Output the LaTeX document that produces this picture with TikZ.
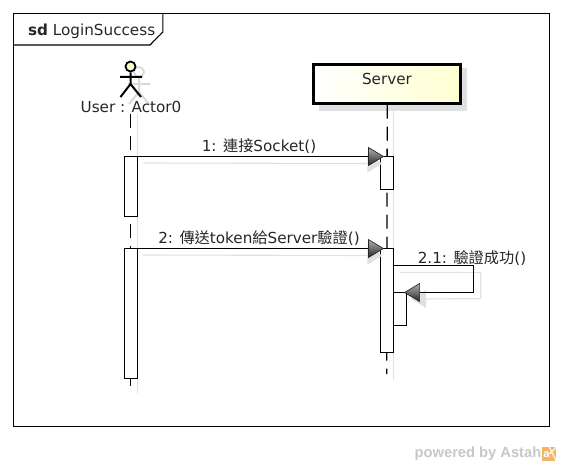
\documentclass[tikz,border=0pt]{standalone}
\usepackage{fontspec}
\setmainfont{DejaVu Sans}
\newfontfamily\cjkfont{Noto Sans CJK TC}
\newfontfamily\footfont{Liberation Sans}
\usetikzlibrary{shapes.geometric}
\definecolor{shadowgray}{HTML}{E0E0E0}
\definecolor{paleyellow}{HTML}{FFFFD2}
\definecolor{astahorange}{HTML}{F2B566}
\newcommand{\zh}[1]{{\cjkfont #1}}
\tikzset{
	lbl/.style={inner sep=0pt, font=\fontsize{15.2}{17}\selectfont, text=black!85, anchor=base},
	act/.style={draw, fill=white, line width=1.1pt, minimum width=13pt, inner sep=0pt, outer sep=0pt, anchor=north},
	msg/.style={line width=1.1pt},
	msgshadow/.style={line width=1.1pt, draw=shadowgray},
	life/.style={line width=1.3pt, dash pattern=on 14pt off 8pt},
	tiptri/.style={isosceles triangle, isosceles triangle stretches, inner sep=0pt, minimum width=18pt, minimum height=15pt},
	tipdark/.style={tiptri, draw=black!85, line width=.7pt, top color=black!30, bottom color=black!85},
	tiplight/.style={tiptri, fill=shadowgray},
}
\begin{document}
\begin{tikzpicture}[x=1pt, y=-1pt]
	\useasboundingbox (0,0) rectangle (562,466);

	% frame
	\node (frame) [draw, line width=1.1pt, outer sep=0pt, minimum width=536pt, minimum height=413pt, inner sep=0pt, anchor=north west] at (13.5,13.5) {};
	\draw [line width=1.1pt] (162.8,13.5) -- (162.8,32) -- (150,45) -- (13.5,45);
	\node (title) [lbl, anchor=base west] at (28,35) {\textbf{sd} LoginSuccess};

	% shadows
	\draw [draw=shadowgray, line width=1.2pt] (137.5,114) -- (137.5,393);
	\draw [draw=shadowgray, line width=1.2pt] (393.5,110) -- (393.5,380);
	\fill [shadowgray] (319,68) rectangle (467,110.5);
	\draw [draw=black!15, line width=1.8pt] (139,72) circle (5);
	\draw [draw=black!15, line width=2pt] (128,84) -- (150,84) (139,77) -- (139,92) -- (129,104) (139,92) -- (149,104);

	% actor
	\coordinate (hip) at (130.5,84);
	\node (head) [circle, draw, line width=1.8pt, fill=paleyellow, minimum size=10pt, inner sep=0pt] at (130.5,66.5) {};
	\draw [line width=2pt] (head) -- (hip) -- (120.5,97) (hip) -- (141,97) (120,76.8) -- (142,76.8);
	\node (user) [lbl] at (131,112) {User : Actor0};

	% server
	\node (server) [draw, line width=3pt, left color=white, right color=paleyellow, minimum width=147.5pt, minimum height=39pt, inner sep=0pt] at (387.2,83.5) {};
	\node (servername) [lbl] at (387,84) {Server};

	% lifelines
	\coordinate (userstart) at (130.5,113.5);
	\coordinate (userend) at (130.5,386);
	\coordinate (serverend) at (386.8,374);
	\draw [life] (userstart) -- (userend);
	\draw [life] (server.south) -- (serverend);

	% activations
	\node (ua1) [act, minimum height=60pt] at (131,156.5) {};
	\node (ua2) [act, minimum height=130pt] at (131,248.5) {};
	\node (sa1) [act, minimum height=33pt] at (387,156.5) {};
	\node (sa2) [act, minimum height=104pt] at (387,248.5) {};
	\node (sa3) [act, minimum height=33pt, anchor=north west] at (393.5,292.5) {};

	% messages
	\foreach \y/\to in {156.5/t1, 248.5/t2} {
		\node (\to s) [tiplight] at (372.5,\y+7) {};
		\draw [msgshadow] (143,\y+6.5) -- (\to s.west);
		\node (\to) [tipdark] at (373.5,\y) {};
	}
	\draw [msg] (ua1.north east) -- (t1.west);
	\draw [msg] (ua2.north east) -- (t2.west);
	\node (m1) [lbl] at (259,151.5) {1: \zh{連接}Socket()};
	\node (m2) [lbl] at (259,243.5) {2: \zh{傳送}token\zh{給}Server\zh{驗證}()};

	% self message
	\coordinate (selfa) at (473.5,265.5);
	\coordinate (selfb) at (473.5,292.5);
	\node (t3s) [tiplight, shape border rotate=180] at (421,299) {};
	\draw [msgshadow] (400,272.3) -- (480.7,272.3) -- (480.7,298.5) -- (t3s.east);
	\node (t3) [tipdark, shape border rotate=180] at (414.5,292.5) {};
	\draw [msg] (sa2.east |- selfa) -- (selfa) -- (selfb) -- (t3.east);
	\node (m3) [lbl] at (472,263) {2.1: \zh{驗證成功}()};

	% footer
	\node (powered) [inner sep=0pt, anchor=base east, text=black!22, font=\footfont\bfseries\fontsize{14.7}{16}\selectfont] at (541.5,457.7) {powered by Astah};
	\node (logo) [fill=astahorange, minimum size=14pt, inner sep=0pt, anchor=north west] at (542,447) {};
	\draw [white, line width=1pt] (logo.north) -- (logo.south east) (logo.north east) -- (logo.center);
	\node (logotext) [inner sep=0pt, text=white, font=\footfont\bfseries\fontsize{11}{11}\selectfont] at (546.5,455) {a};
\end{tikzpicture}
\end{document}
